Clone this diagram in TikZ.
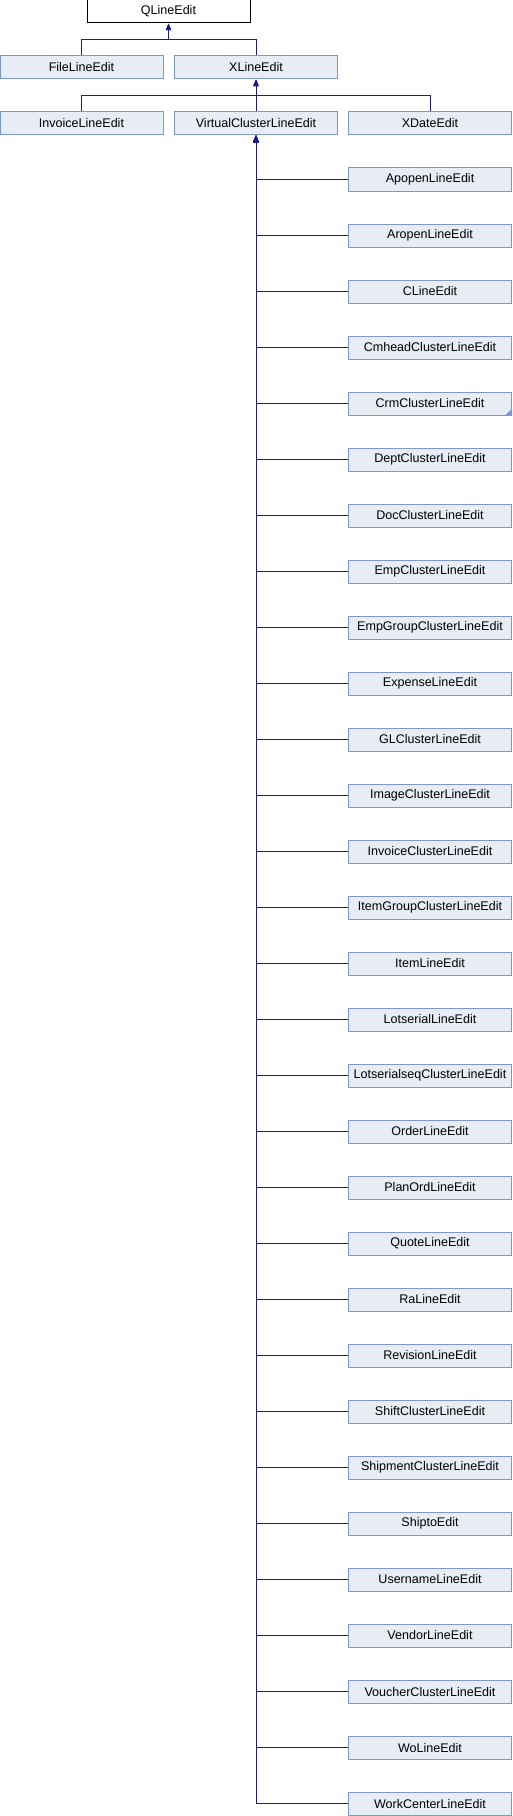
\documentclass[tikz,border=0pt]{standalone}
\usepackage{fontspec}
\setmainfont{Liberation Sans}
\usetikzlibrary{arrows.meta}
\definecolor{boxfill}{RGB}{232,236,245}
\definecolor{boxline}{RGB}{124,152,207}
\definecolor{edgecol}{RGB}{25,25,145}
\tikzset{
  cls/.style={rectangle, draw=boxline, fill=boxfill, line width=0.75pt,
    minimum width=122.25pt, minimum height=17.25pt, inner sep=0pt,
    font=\fontsize{9.4pt}{11pt}\selectfont},
  extcls/.style={cls, draw=black, fill=white},
  edge/.style={draw=edgecol, line width=0.75pt, -{Triangle[length=5pt,width=4pt]}},
}
\begin{document}
\begin{tikzpicture}[x=0.75pt, y=-0.75pt]
\useasboundingbox (0,0) rectangle (512,1816);
\node[extcls] (qle) at (168.5,11.5) {QLineEdit};
\node[cls] (file) at (81.5,67.5) {FileLineEdit};
\node[cls] (xle) at (256,67.5) {XLineEdit};
\node[cls] (inv) at (81.5,123.5) {InvoiceLineEdit};
\node[cls] (vce) at (256,123.5) {VirtualClusterLineEdit};
\node[cls] (xde) at (430,123.5) {XDateEdit};
\draw[edge] (file.north) |- ++(0,-16) -| (qle.south);
\draw[edge] (xle.north) |- ++(0,-16) -| (qle.south);
\draw[edge] (inv.north) |- ++(0,-16) -| (xle.south);
\draw[edge] (vce.north) -- (xle.south);
\draw[edge] (xde.north) |- ++(0,-16) -| (xle.south);
\foreach \n [count=\i from 0] in {ApopenLineEdit, AropenLineEdit, CLineEdit, CmheadClusterLineEdit, CrmClusterLineEdit, DeptClusterLineEdit, DocClusterLineEdit, EmpClusterLineEdit, EmpGroupClusterLineEdit, ExpenseLineEdit, GLClusterLineEdit, ImageClusterLineEdit, InvoiceClusterLineEdit, ItemGroupClusterLineEdit, ItemLineEdit, LotserialLineEdit, LotserialseqClusterLineEdit, OrderLineEdit, PlanOrdLineEdit, QuoteLineEdit, RaLineEdit, RevisionLineEdit, ShiftClusterLineEdit, ShipmentClusterLineEdit, ShiptoEdit, UsernameLineEdit, VendorLineEdit, VoucherClusterLineEdit, WoLineEdit, WorkCenterLineEdit} {
  \node[cls] (c\i) at (430,{179.5+56*\i}) {\n};
  \draw[edge] (c\i.west) -| (vce.south);
}
\fill[boxline] (c4.south east) -- ++(-7,0) -- ++(7,-7) -- cycle;
\end{tikzpicture}
\end{document}
